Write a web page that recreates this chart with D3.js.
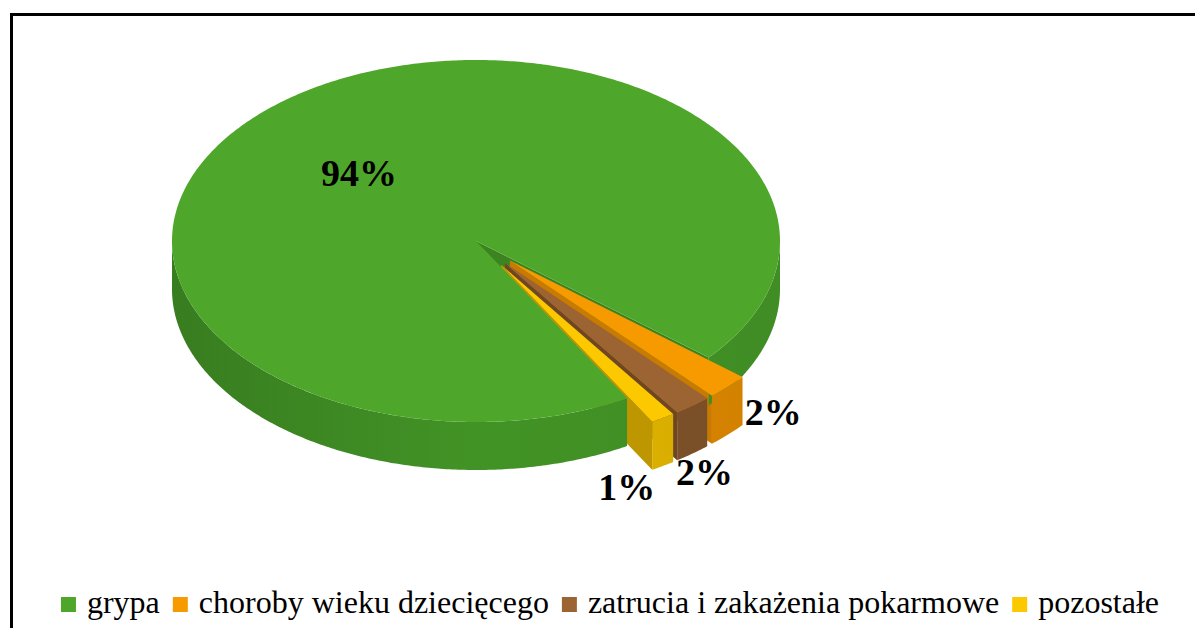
<!DOCTYPE html>
<html>
<head>
<meta charset="utf-8">
<script src="https://cdn.jsdelivr.net/npm/d3@7.9.0/dist/d3.min.js"></script>
<style>
  body { margin: 0; background: #fff; }
  svg { display: block; }
</style>
</head>
<body>
<svg id="chart" width="1195" height="628"></svg>
<script>
// data
const categories = ['grypa', 'choroby wieku dziecięcego', 'zatrucia i zakażenia pokarmowe', 'pozostałe'];
const values = [94.4, 2.3, 2.0, 1.3];
const valueLabels = ['94%', '2%', '2%', '1%'];
const topColors = ['#4ea72a', '#f79a00', '#9b6432', '#fcc800'];
const sideColors = ['#429326', '#db8700', '#7e522a', '#dfb300'];
const wallColors = ['#3b8420', '#c97a00', '#6e4623', '#bd9600'];

const W = 1195, H = 628;
const cx = 476, cy = 241, rx = 304, ry = 181, depth = 48;
const EXPLODE = 0.155;
const START = 150.2 * Math.PI / 180;
const FONT = '"Liberation Serif", "Times New Roman", serif';

const svg = d3.select('#chart');
const defs = svg.append('defs');

// outer frame
svg.append('rect')
  .attr('x', 11.5).attr('y', 14.5)
  .attr('width', W).attr('height', H)
  .attr('fill', 'none').attr('stroke', '#000').attr('stroke-width', 3);

let x = d3.scaleLinear().domain([-1, 1]).range([cx - rx, cx + rx]);
let y = d3.scaleLinear().domain([-1, 1]).range([cy - ry, cy + ry]);

let pie = d3.pie().sort(null).value(d => d)
  .startAngle(START).endAngle(START + 2 * Math.PI);
let arcData = pie(values);

function pt(a, r, o, z) {
  return [x(o[0] + r * Math.sin(a)), y(o[1] - r * Math.cos(a)) + z];
}
function arcPts(a0, a1, o, z) {
  const n = Math.max(2, Math.ceil(Math.abs(a1 - a0) / 0.01));
  return d3.range(n + 1).map(i => pt(a0 + (a1 - a0) * i / n, 1, o, z));
}
const line = d3.line().curve(d3.curveLinearClosed);

// front half of the rim (where the wall faces the viewer)
function frontParts(a0, a1) {
  let parts = [];
  for (let k = -1; k <= 2; k++) {
    const lo = Math.max(a0, Math.PI / 2 + 2 * Math.PI * k);
    const hi = Math.min(a1, 3 * Math.PI / 2 + 2 * Math.PI * k);
    if (hi > lo) parts.push([lo, hi]);
  }
  return parts;
}

function offsetOf(d, i) {
  const mid = (d.startAngle + d.endAngle) / 2;
  const e = i === 0 ? 0 : EXPLODE;
  return [e * Math.sin(mid), -e * Math.cos(mid)];
}

// painter's order: cut walls, then rims, then top faces
const cutLayer = svg.append('g');
const rimLayer = svg.append('g');
const topLayer = svg.append('g');

arcData.forEach((d, i) => {
  const o = offsetOf(d, i);

  const base = d3.color(sideColors[i]);
  const grad = defs.append('linearGradient')
    .attr('id', 'side' + i)
    .attr('gradientUnits', 'userSpaceOnUse')
    .attr('x1', cx - rx).attr('x2', cx + rx).attr('y1', 0).attr('y2', 0);
  grad.append('stop').attr('offset', 0).attr('stop-color', base.darker(0.45));
  grad.append('stop').attr('offset', 0.5).attr('stop-color', base);
  grad.append('stop').attr('offset', 1).attr('stop-color', base.darker(0.12));

  frontParts(d.startAngle, d.endAngle).forEach(([b0, b1]) => {
    const pts = arcPts(b0, b1, o, 0).concat(arcPts(b1, b0, o, depth));
    rimLayer.append('path').attr('d', line(pts)).attr('fill', `url(#side${i})`);
  });

  const tipT = pt(0, 0, o, 0), tipB = pt(0, 0, o, depth);
  [[d.startAngle, Math.sin(d.startAngle) < 0], [d.endAngle, Math.sin(d.endAngle) > 0]]
    .filter(w => w[1])
    .forEach(([a]) => {
      cutLayer.append('path')
        .attr('d', line([tipT, pt(a, 1, o, 0), pt(a, 1, o, depth), tipB]))
        .attr('fill', wallColors[i]);
    });

  topLayer.append('path')
    .attr('d', line([tipT].concat(arcPts(d.startAngle, d.endAngle, o, 0))))
    .attr('fill', topColors[i]);
});

// data labels
const labelNudge = [[0, 28, 'middle'], [17, -9.5, 'start'], [12, 31.5, 'middle'], [-36, 34, 'middle']];
arcData.forEach((d, i) => {
  const mid = (d.startAngle + d.endAngle) / 2;
  const p = i === 0 ? pt(mid, 0.6, [0, 0], 0) : pt(mid, 1, offsetOf(d, i), depth);
  svg.append('text')
    .attr('x', p[0] + labelNudge[i][0]).attr('y', p[1] + labelNudge[i][1])
    .attr('text-anchor', labelNudge[i][2])
    .attr('font-family', FONT)
    .attr('font-weight', 'bold')
    .attr('font-size', 38)
    .attr('fill', '#000')
    .text(valueLabels[i]);
});

// legend
const legendY = 613, sw = 15, gapIn = 11, gapOut = 13;
const legend = svg.append('g');
const items = categories.map((c, i) => {
  const it = legend.append('g');
  it.append('rect').attr('width', sw).attr('height', sw).attr('y', legendY - 16).attr('fill', topColors[i]);
  const t = it.append('text')
    .attr('x', sw + gapIn).attr('y', legendY)
    .attr('font-family', FONT)
    .attr('font-size', 32)
    .attr('fill', '#000')
    .text(c);
  return { it, w: sw + gapIn + t.node().getComputedTextLength() };
});
const total = d3.sum(items, d => d.w) + gapOut * (items.length - 1);
let lx = 610 - total / 2;
items.forEach(d => {
  d.it.attr('transform', `translate(${lx},0)`);
  lx += d.w + gapOut;
});
</script>
</body>
</html>
